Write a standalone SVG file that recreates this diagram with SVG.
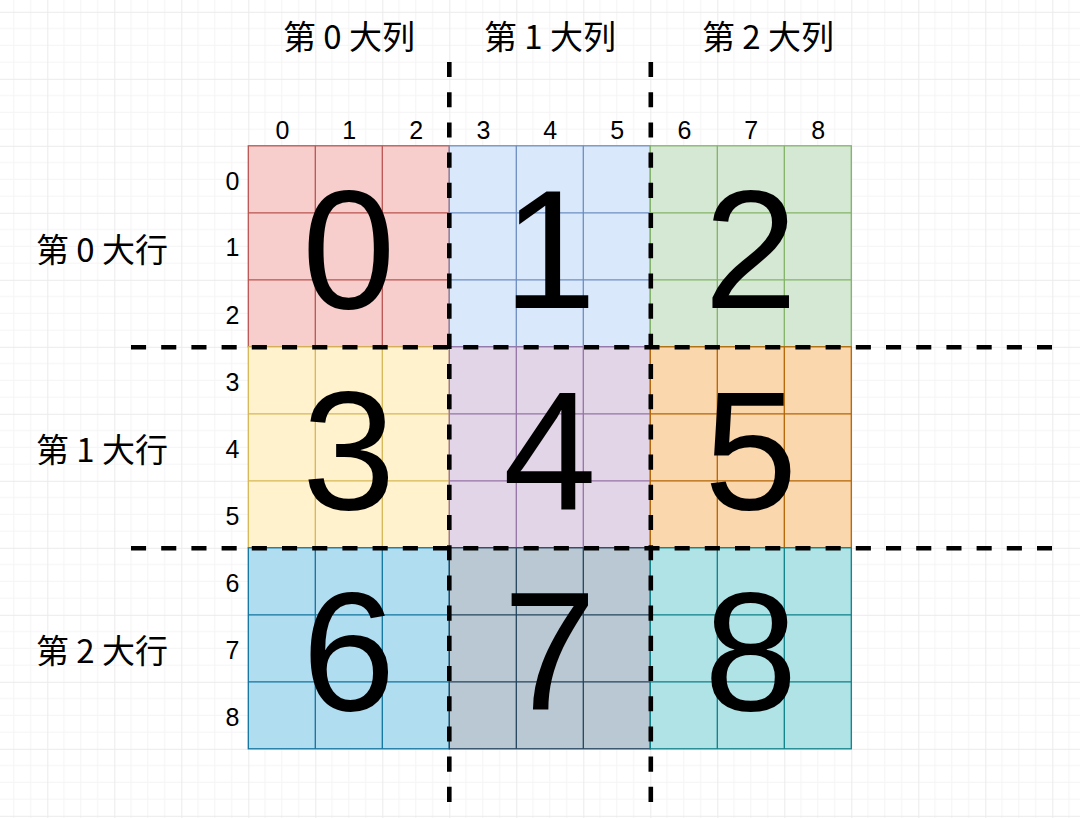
<svg xmlns="http://www.w3.org/2000/svg" xmlns:xlink="http://www.w3.org/1999/xlink" width="1080" height="818" viewBox="0 0 1080 818">
<style>
.big{font-family:"Liberation Sans",Arial,sans-serif;font-size:168px;fill:#000;text-anchor:middle}
.num{font-family:"Liberation Sans",Arial,sans-serif;font-size:25px;fill:#000;text-anchor:middle}
.lbl{font-family:"Noto Sans CJK SC","Noto Sans",sans-serif;font-size:33px;fill:#000;text-anchor:middle}
.cells{stroke-width:1.3}
.dash{stroke:#000;stroke-width:4.6;stroke-dasharray:15.1 15.1;fill:none}
</style>
<defs>
<pattern id="grid" patternUnits="userSpaceOnUse" x="47.3" y="11.8" width="67" height="67">
<path d="M16.75 0V67M33.5 0V67M50.25 0V67M0 16.75H67M0 33.5H67M0 50.25H67" stroke="#f4f4f4" stroke-width="1" fill="none"/>
<path d="M0.5 0V67M0 0.5H67" stroke="#ebebeb" stroke-width="1" fill="none"/>
</pattern>
<g id="b3">
<rect x="0" y="0" width="201" height="201"/>
<path d="M67 0V201M134 0V201M0 67H201M0 134H201" fill="none"/>
</g>
</defs>
<rect width="1080" height="818" fill="#ffffff"/>
<rect width="1080" height="818" fill="url(#grid)"/>

<g id="block-0"><use xlink:href="#b3" x="248.3" y="145.8" class="cells" fill="#f8cecc" stroke="#b85450"/><text class="big" x="348.8" y="308">0</text></g>
<g id="block-1"><use xlink:href="#b3" x="449.3" y="145.8" class="cells" fill="#dae8fc" stroke="#6c8ebf"/><text class="big" x="549.8" y="308">1</text></g>
<g id="block-2"><use xlink:href="#b3" x="650.3" y="145.8" class="cells" fill="#d5e8d4" stroke="#82b366"/><text class="big" x="750.8" y="308">2</text></g>
<g id="block-3"><use xlink:href="#b3" x="248.3" y="346.8" class="cells" fill="#fff2cc" stroke="#d6b656"/><text class="big" x="348.8" y="509">3</text></g>
<g id="block-4"><use xlink:href="#b3" x="449.3" y="346.8" class="cells" fill="#e1d5e7" stroke="#9673a6"/><text class="big" x="549.8" y="509">4</text></g>
<g id="block-5"><use xlink:href="#b3" x="650.3" y="346.8" class="cells" fill="#fad7ac" stroke="#b46504"/><text class="big" x="750.8" y="509">5</text></g>
<g id="block-6"><use xlink:href="#b3" x="248.3" y="547.8" class="cells" fill="#b1ddf0" stroke="#10739e"/><text class="big" x="348.8" y="710">6</text></g>
<g id="block-7"><use xlink:href="#b3" x="449.3" y="547.8" class="cells" fill="#bac8d3" stroke="#23445d"/><text class="big" x="549.8" y="710">7</text></g>
<g id="block-8"><use xlink:href="#b3" x="650.3" y="547.8" class="cells" fill="#b0e3e6" stroke="#0e8088"/><text class="big" x="750.8" y="710">8</text></g>

<g id="col-numbers">
<text class="num" x="282.5" y="139">0</text>
<text class="num" x="349.3" y="139">1</text>
<text class="num" x="416.3" y="139">2</text>
<text class="num" x="483.5" y="139">3</text>
<text class="num" x="550.3" y="139">4</text>
<text class="num" x="617.3" y="139">5</text>
<text class="num" x="684.5" y="139">6</text>
<text class="num" x="751.3" y="139">7</text>
<text class="num" x="818.3" y="139">8</text>
</g>
<g id="row-numbers">
<text class="num" x="232.5" y="189.5">0</text>
<text class="num" x="232.5" y="256">1</text>
<text class="num" x="232.5" y="323.5">2</text>
<text class="num" x="232.5" y="390.5">3</text>
<text class="num" x="232.5" y="457.5">4</text>
<text class="num" x="232.5" y="524.5">5</text>
<text class="num" x="232.5" y="592">6</text>
<text class="num" x="232.5" y="658.5">7</text>
<text class="num" x="232.5" y="725.5">8</text>
</g>
<g id="col-labels">
<text class="lbl" x="349" y="49">第 0 大列</text>
<text class="lbl" x="550" y="49">第 1 大列</text>
<text class="lbl" x="768" y="49">第 2 大列</text>
</g>
<g id="row-labels">
<text class="lbl" x="102" y="261.5">第 0 大行</text>
<text class="lbl" x="102" y="462">第 1 大行</text>
<text class="lbl" x="102" y="663">第 2 大行</text>
</g>
<g id="connectors">
<line class="dash" x1="449.3" y1="62" x2="449.3" y2="802"/>
<line class="dash" x1="650.8" y1="62" x2="650.8" y2="802"/>
<line class="dash" x1="131" y1="347.2" x2="1052" y2="347.2"/>
<line class="dash" x1="131" y1="548.2" x2="1052" y2="548.2"/>
</g>
</svg>
